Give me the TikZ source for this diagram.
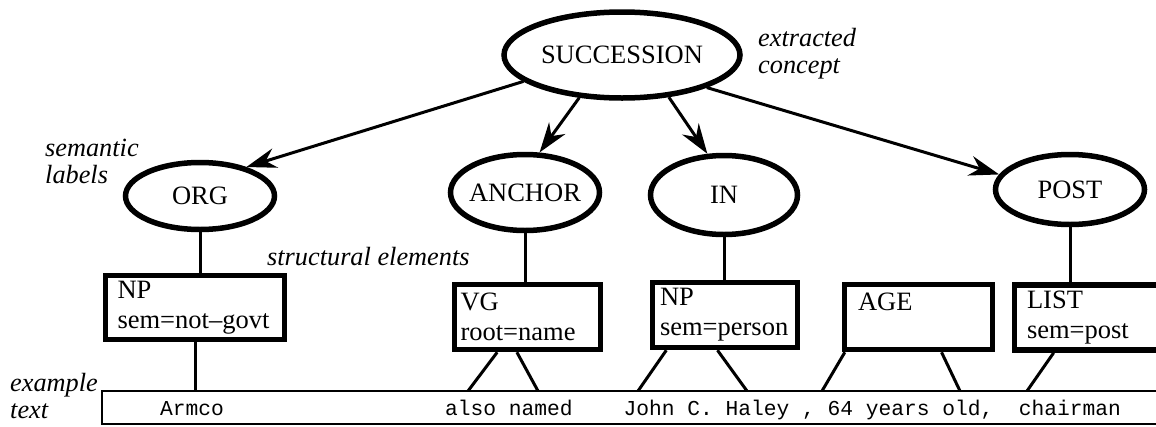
\documentclass[tikz,border=0pt]{standalone}
\usepackage{fontspec}
\setmainfont{Liberation Serif}
\setmonofont{Liberation Mono}
\usetikzlibrary{shapes.geometric,arrows.meta,calc}

\begin{document}
\begin{tikzpicture}[x=1pt, y=-1pt, >={Stealth[length=30pt,width=20pt]},
        concept/.style={draw, ellipse, line width=5.5pt, inner xsep=-10pt, inner ysep=0pt, font=\fontsize{26.5}{30}\selectfont},
        element/.style={draw, rectangle, line width=5.5pt, align=left, inner ysep=0pt, minimum height=65pt, font=\fontsize{26.5}{30}\selectfont},
        link/.style={line width=3pt},
        remark/.style={inner sep=0pt, align=left, font=\fontsize{26.3}{27}\selectfont\itshape},
        sample/.style={inner sep=0pt, anchor=base west, font=\fontsize{21.25}{24}\selectfont\ttfamily\frenchspacing}]
            \useasboundingbox (0,0) rectangle (1156,426);

            \node[concept, minimum width=236pt, minimum height=86pt] (succ) at (622,55) {SUCCESSION};
            \node[remark, anchor=north west] (extracted) at (758,28) {extracted\\concept};

            \node[concept, minimum width=149pt, minimum height=67pt] (org) at (200,196) {ORG};
            \node[concept, minimum width=149pt, minimum height=76pt] (anc) at (525,192.5) {ANCHOR};
            \node[concept, minimum width=147pt, minimum height=79pt] (inp) at (724,195) {IN};
            \node[concept, minimum width=149pt, minimum height=70pt] (post) at (1070,189.5) {POST};
            \node[remark, anchor=north west] (semantic) at (45,139) {semantic\\labels};

            \draw[link, ->] (succ.195) -- (org.32);
            \draw[link, ->] (succ.225) -- (anc.70);
            \draw[link, ->] (succ.318) -- (inp.112);
            \draw[link, ->] (succ.339) -- (post.168);

            \node[element, minimum height=64pt, inner xsep=12pt, text width=155pt] (np1) at (195,307.5) {NP\\sem=not--govt};
            \node[element, inner xsep=6pt, text width=134pt] (vg) at (527.5,317) {VG\\root=name};
            \node[element, inner xsep=7.5pt, text width=130pt] (np2) at (725,315) {NP\\sem=person};
            \node[element, inner xsep=13.5pt, text width=121pt] (age) at (918.5,317) {AGE\\\mbox{}};
            \node[element, inner xsep=12.5pt, text width=160pt] (list) at (1107,317.5) {LIST\\sem=post};
            \node[remark, anchor=base west] (structural) at (267,265) {structural elements};

            \draw[link] (org.south) -- (org.south |- np1.north);
            \draw[link] (anc.south) -- (anc.south |- vg.north);
            \draw[link] (inp.south) -- (inp.south |- np2.north);
            \draw[link] (post.south) -- (post.south |- list.north);

            \node[draw, line width=2.5pt, minimum width=1098pt, minimum height=33pt, inner sep=0pt] (textbar) at (651,407.5) {};
            \node[remark, anchor=north west] (example) at (10,373) {example\\text};
            \node[sample] (armco) at (160,415) {Armco};
            \node[sample] (words) at (445,415) {also named\ \ \ \ John C. Haley\ ,\ 64 years old,\ \ chairman};

            \coordinate (w-also) at (468,391);
            \coordinate (w-named) at (538,391);
            \coordinate (w-john) at (638,391);
            \coordinate (w-haley) at (747,391);
            \coordinate (w-64) at (822,391);
            \coordinate (w-old) at (960,391);
            \coordinate (w-chair) at (1027,391);

            \draw[link] (np1.south) -- (np1.south |- textbar.north);
            \draw[link] ($(vg.south west)!0.3!(vg.south east)$) -- (w-also);
            \draw[link] ($(vg.south west)!0.43!(vg.south east)$) -- (w-named);
            \draw[link] ($(np2.south west)!0.11!(np2.south east)$) -- (w-john);
            \draw[link] ($(np2.south west)!0.45!(np2.south east)$) -- (w-haley);
            \draw[link] ($(age.south west)!0.02!(age.south east)$) -- (w-64);
            \draw[link] ($(age.south west)!0.65!(age.south east)$) -- (w-old);
            \draw[link] ($(list.south west)!0.22!(list.south east)$) -- (w-chair);
        \end{tikzpicture}
\end{document}
